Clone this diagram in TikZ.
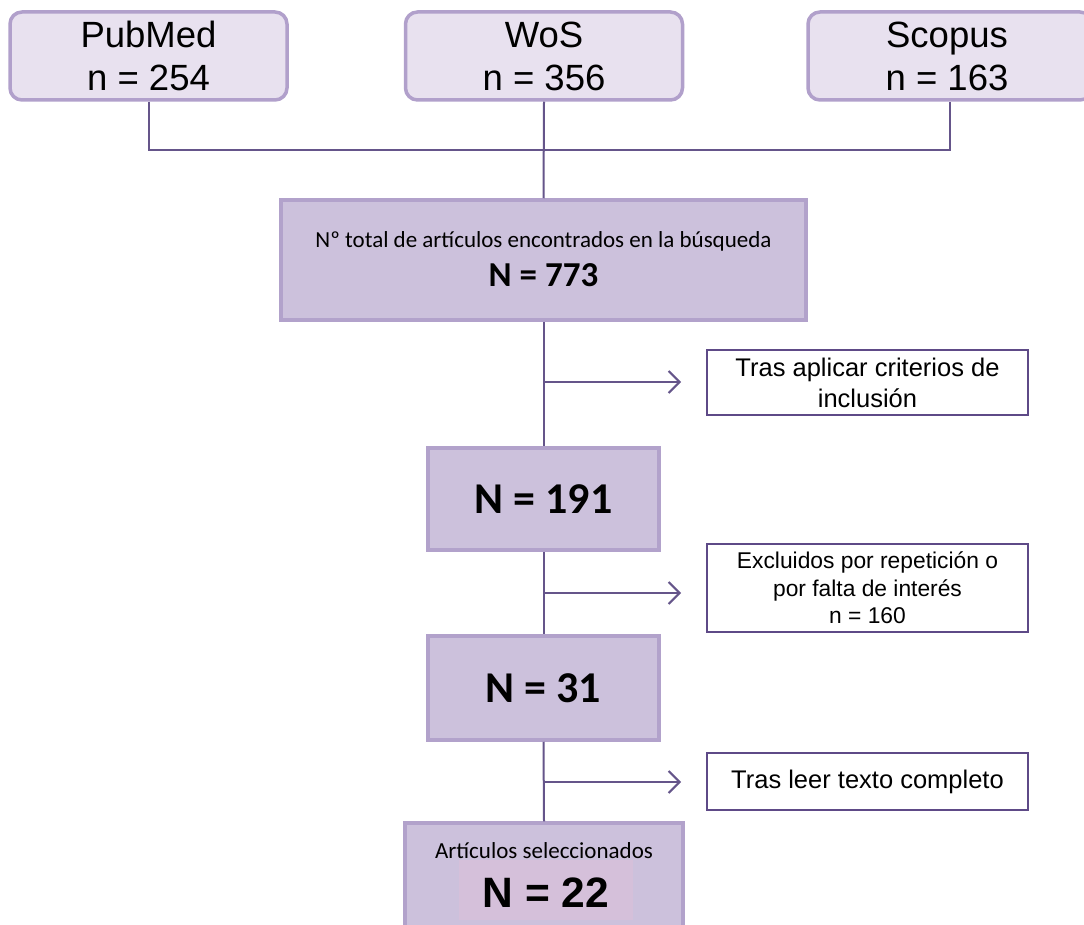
\documentclass[tikz,border=0pt]{standalone}
\usepackage{fontspec}
\setmainfont{Liberation Sans}
\newfontfamily\calib{Carlito}
\usetikzlibrary{arrows.meta}
\definecolor{topfill}{HTML}{E8E1EF}
\definecolor{topdraw}{HTML}{B1A0CB}
\definecolor{midfill}{HTML}{CCC1DC}
\definecolor{middraw}{HTML}{B2A2CB}
\definecolor{linec}{HTML}{65558A}
\definecolor{sidedraw}{HTML}{5E4A87}
\definecolor{innerfill}{HTML}{D5C0DA}
\tikzset{
  srcbox/.style={draw=topdraw, fill=topfill, line width=3.5pt, rounded corners=12pt,
    minimum width=277pt, minimum height=88pt, inner sep=0pt, align=center,
    font=\fontsize{36.5}{43}\selectfont},
  stagebox/.style={draw=middraw, fill=midfill, line width=3.5pt,
    inner sep=0pt, align=center},
  sidebox/.style={draw=sidedraw, fill=white, line width=2pt,
    minimum width=321pt, inner sep=0pt, align=center},
  conn/.style={draw=linec, line width=2pt},
  branch/.style={conn, -{Straight Barb[length=11pt, width=22pt, line width=2pt]}},
}
\begin{document}
\begin{tikzpicture}[x=1pt, y=-1pt]
\useasboundingbox (0,0) rectangle (1084,925);
\fill[white] (0,0) rectangle (1084,925);
\begin{scope}
\clip (0,0) rectangle (1084,925);
% source boxes
\node[srcbox] (pub) at (148.5,56) {PubMed\\n = 254};
\node[srcbox] (wos) at (544,56) {WoS\\n = 356};
\node[srcbox, minimum width=284pt] (sco) at (950,56) {\hspace*{-6pt}Scopus\\\hspace*{-6pt}n = 163};
% stage boxes
\node[stagebox, minimum width=525pt, minimum height=120pt] (tot) at (543.5,260) {};
\node[anchor=base] (tottxt) at (543.5,248)
  {\calib\fontsize{23}{26}\selectfont Nº total de artículos encontrados en la búsqueda};
\node[anchor=base] (totn) at (543.5,287)
  {\calib\bfseries\fontsize{35}{38}\selectfont N = 773};
\node[stagebox, minimum width=231pt, minimum height=102pt] (n191) at (543.5,499)
  {\calib\bfseries\fontsize{44}{48}\selectfont N = 191};
\node[stagebox, minimum width=231pt, minimum height=104pt] (n31) at (543.5,688)
  {\calib\bfseries\fontsize{44}{48}\selectfont N = 31};
\node[stagebox, minimum width=278pt, minimum height=124pt] (sel) at (544,885) {};
\node[fill=innerfill, minimum width=174pt, minimum height=60pt, inner sep=0pt] (inner) at (546,890) {};
\node[anchor=base] (seltxt) at (544,858) {\calib\fontsize{23}{26}\selectfont Artículos seleccionados};
\node[anchor=base] (n22) at (546,907) {\bfseries\fontsize{42.5}{46}\selectfont N = 22};
% side boxes
\node[sidebox, minimum height=65pt, font=\fontsize{25.5}{31}\selectfont] (s1) at (867.5,382.5)
  {Tras aplicar criterios de\\inclusión};
\node[sidebox, minimum height=88pt, font=\fontsize{22.8}{27.5}\selectfont] (s2) at (867.5,588)
  {Excluidos por repetición o\\por falta de interés\\n = 160};
\node[sidebox, minimum height=57pt, font=\fontsize{25.5}{30}\selectfont] (s3) at (867.5,781.5)
  {Tras leer texto completo};
% connectors
\coordinate (j) at (543.5,150);
\draw[conn] (pub.south) |- (j) -| (sco.south);
\draw[conn] (wos.south) -- (tot.north);
\draw[conn] (tot.south) -- (n191.north);
\draw[conn] (n191.south) -- (n31.north);
\draw[conn] (n31.south) -- (sel.north);
\coordinate (b1) at (543.5,382); \coordinate (e1) at (681,382);
\coordinate (b2) at (543.5,593); \coordinate (e2) at (681,593);
\coordinate (b3) at (543.5,782); \coordinate (e3) at (681,782);
\draw[branch] (b1) -- (e1);
\draw[branch] (b2) -- (e2);
\draw[branch] (b3) -- (e3);
\end{scope}
\end{tikzpicture}
\end{document}
